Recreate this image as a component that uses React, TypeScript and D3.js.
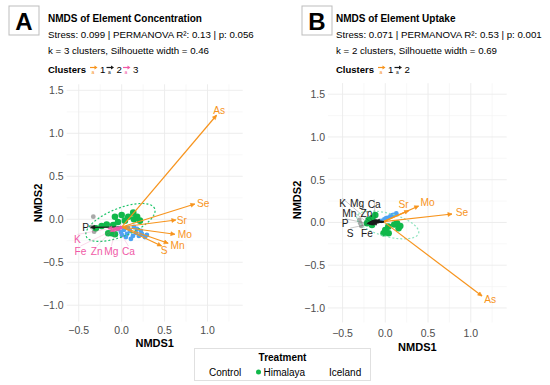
import * as d3 from "d3";

// ── Panel A: element concentration ─────────────────────────────────────
const A_ORIGIN = [0, -0.09];
const A_ARROW_NAMES = ["As", "Se", "Sr", "Mo", "Mn", "S", "P", "K", "Fe", "Zn", "Mg", "Ca"];
const A_ARROW_CLUSTER = [1, 1, 1, 1, 1, 1, 2, 3, 3, 3, 3, 3];
const A_ARROW_X = [1.105, 0.852, 0.631, 0.62, 0.542, 0.465, -0.36, -0.16, -0.13, -0.1, -0.07, -0.04];
const A_ARROW_Y = [1.21, 0.178, -0.008, -0.174, -0.279, -0.31, -0.093, -0.11, -0.14, -0.12, -0.13, -0.12];
const A_LABEL_X = [1.135, 0.95, 0.7, 0.736, 0.651, 0.495, -0.42, -0.516, -0.48, -0.29, -0.12, 0.08];
const A_LABEL_Y = [1.27, 0.186, -0.016, -0.174, -0.3, -0.365, -0.093, -0.235, -0.37, -0.37, -0.37, -0.37];

const A_HIM_X = [-0.078, 0, 0.077, 0.135, 0.18, 0.213, 0.143, 0.038, -0.098, -0.174, -0.233, -0.3, -0.156, -0.116, -0.078, -0.043];
const A_HIM_Y = [0.03, 0.05, 0.03, 0.077, 0.03, -0.016, 0, -0.016, -0.066, -0.06, -0.078, -0.105, -0.163, -0.163, -0.174, -0.031];
const A_CTL_X = [-0.33, -0.32, -0.345];
const A_CTL_Y = [0.03, -0.144, -0.09];
const A_ICE_X = [-0.043, -0.008, 0.027, 0.062, 0.097, 0.131, 0.166, 0.201, 0.236, 0.271, 0.05, 0.108, 0.003, 0.178, 0.224, 0.073, 0.143, 0.294];
const A_ICE_Y = [-0.113, -0.148, -0.124, -0.171, -0.136, -0.194, -0.159, -0.194, -0.171, -0.206, -0.206, -0.229, -0.183, -0.113, -0.136, -0.101, -0.09, -0.183];
// ellipse: cx, cy, rx, ry, angle (deg)
const A_ELLIPSE = [-0.014, -0.037, 0.43, 0.163, 22];

// ── Panel B: element uptake ────────────────────────────────────────────
const B_ORIGIN = [-0.02, 0.01];
const B_ARROW_NAMES = ["As", "Se", "Mo", "Sr", "K", "Mg", "Ca", "Mn", "Zn", "P", "S", "Fe"];
const B_ARROW_CLUSTER = [1, 1, 1, 1, 2, 2, 2, 2, 2, 2, 2, 2];
const B_ARROW_X = [1.131, 0.78, 0.39, 0.273, -0.175, -0.152, -0.117, -0.2, -0.164, -0.21, -0.187, -0.152];
const B_ARROW_Y = [-0.86, 0.099, 0.193, 0.138, 0.006, 0.018, 0.023, -0.006, 0, -0.012, -0.018, -0.018];
const B_LABEL_X = [1.228, 0.897, 0.495, 0.214, -0.5, -0.33, -0.13, -0.42, -0.22, -0.47, -0.41, -0.215];
const B_LABEL_Y = [-0.898, 0.115, 0.232, 0.205, 0.222, 0.222, 0.212, 0.1, 0.1, -0.015, -0.125, -0.125];

const B_HIM_X = [-0.117, -0.195, -0.214, -0.156, 0, 0.035, 0.137, 0.156, -0.02, 0.039, 0.175, 0.105, -0.152];
const B_HIM_Y = [0.088, 0.029, -0.009, -0.029, -0.088, -0.049, -0.009, -0.068, -0.126, -0.126, -0.041, -0.023, 0.053];
const B_CTL_X = [-0.292, -0.28, -0.304];
const B_CTL_Y = [-0.009, -0.041, 0.029];
const B_ICE_X = [-0.047, -0.012, 0.023, 0.058, 0.094, 0.129, 0.006, 0.076];
const B_ICE_Y = [0.018, 0.035, 0.053, 0.07, 0.088, 0.105, 0.047, 0.082];
const B_ELLIPSE = [0.029, -0.029, 0.374, 0.135, -15];

const X_MAJOR = [-0.5, 0, 0.5, 1.0];
const X_MINOR = [-0.25, 0.25, 0.75, 1.25];
const Y_MAJOR = [-1.0, -0.5, 0, 0.5, 1.0, 1.5];
const Y_MINOR = [-0.75, -0.25, 0.25, 0.75, 1.25];

const FONT = "'Liberation Sans', Arial, sans-serif";
const ORANGE = "#F7941D";
const PINK = "#F05AA6";
const DARK = "#1a1a1a";
const GREEN = "#10B84A";
const BLUE = "#4EA3F2";
const GRAY = "#A8A8A8";
const CLUSTER_COLOR: Record<number, string> = { 1: ORANGE, 2: DARK, 3: PINK };

function fmt(v: number) {
  return (v < 0 ? "\u2212" : "") + Math.abs(v).toFixed(1);
}

function ellipsePath(e: number[], x: d3.ScaleLinear<number, number>, y: d3.ScaleLinear<number, number>) {
  const [cx, cy, rx, ry, ang] = e;
  const a = (ang * Math.PI) / 180;
  const pts = d3.range(0, 101).map((i) => {
    const t = (i / 100) * 2 * Math.PI;
    const ex = rx * Math.cos(t);
    const ey = ry * Math.sin(t);
    return [cx + ex * Math.cos(a) - ey * Math.sin(a), cy + ex * Math.sin(a) + ey * Math.cos(a)];
  });
  return d3.line<number[]>().x((d) => x(d[0])).y((d) => y(d[1]))(pts) ?? "";
}

interface PanelProps {
  x: d3.ScaleLinear<number, number>;
  y: d3.ScaleLinear<number, number>;
  origin: number[];
  names: string[];
  cluster: number[];
  ax: number[];
  ay: number[];
  lx: number[];
  ly: number[];
  him: [number[], number[]];
  ctl: [number[], number[]];
  ice: [number[], number[]];
  ellipse: number[];
  ellipseColor: string;
  xTitleY: number;
  yTitleX: number;
  yTitleY: number;
  xTickY: number;
}

function Panel(p: PanelProps) {
  const { x, y } = p;
  const [x0, x1] = x.range();
  const [y1, y0] = y.range();
  const ox = x(p.origin[0]);
  const oy = y(p.origin[1]);
  return (
    <g>
      {/* grid */}
      {X_MINOR.filter((v) => x(v) >= x0 && x(v) <= x1).map((v) => (
        <line key={"xm" + v} x1={x(v)} x2={x(v)} y1={y0} y2={y1} stroke="#F3F3F3" strokeWidth={0.6} />
      ))}
      {Y_MINOR.map((v) => (
        <line key={"ym" + v} x1={x0} x2={x1} y1={y(v)} y2={y(v)} stroke="#F3F3F3" strokeWidth={0.6} />
      ))}
      {X_MAJOR.map((v) => (
        <line key={"xM" + v} x1={x(v)} x2={x(v)} y1={y0} y2={y1} stroke="#EBEBEB" strokeWidth={0.9} />
      ))}
      {Y_MAJOR.map((v) => (
        <line key={"yM" + v} x1={x0} x2={x1} y1={y(v)} y2={y(v)} stroke="#EBEBEB" strokeWidth={0.9} />
      ))}
      {/* tick labels */}
      {X_MAJOR.map((v) => (
        <text key={"xt" + v} x={x(v)} y={p.xTickY} textAnchor="middle" dominantBaseline="central" fontSize={10.5} fill="#4D4D4D">
          {fmt(v)}
        </text>
      ))}
      {Y_MAJOR.map((v) => (
        <text key={"yt" + v} x={x0 - 3} y={y(v)} textAnchor="end" dominantBaseline="central" fontSize={10.5} fill="#4D4D4D">
          {fmt(v)}
        </text>
      ))}
      <text x={(x0 + x1) / 2} y={p.xTitleY} textAnchor="middle" dominantBaseline="central" fontSize={11} fontWeight="bold" fill="#000">
        NMDS1
      </text>
      <text
        transform={`translate(${p.yTitleX},${p.yTitleY}) rotate(-90)`}
        textAnchor="middle"
        dominantBaseline="central"
        fontSize={11}
        fontWeight="bold"
        fill="#000"
      >
        NMDS2
      </text>
      {/* points */}
      {p.ctl[0].map((v, i) => (
        <circle key={"c" + i} cx={x(v)} cy={y(p.ctl[1][i])} r={2.4} fill={GRAY} />
      ))}
      {p.him[0].map((v, i) => (
        <circle key={"h" + i} cx={x(v)} cy={y(p.him[1][i])} r={3.3} fill={GREEN} />
      ))}
      {p.ice[0].map((v, i) => (
        <circle key={"i" + i} cx={x(v)} cy={y(p.ice[1][i])} r={2.4} fill={BLUE} />
      ))}
      <path d={ellipsePath(p.ellipse, x, y)} fill="none" stroke={p.ellipseColor} strokeWidth={1.2} strokeDasharray="2,2" />
      {/* repel segments */}
      {p.names.map((n, i) => {
        const tx = x(p.ax[i]);
        const ty = y(p.ay[i]);
        const lxp = x(p.lx[i]);
        const lyp = y(p.ly[i]);
        const d = Math.hypot(lxp - tx, lyp - ty);
        if (d < 14) return null;
        return (
          <line key={"s" + n} x1={tx} y1={ty} x2={lxp} y2={lyp - 5} stroke={CLUSTER_COLOR[p.cluster[i]]} strokeWidth={0.5} opacity={0.45} />
        );
      })}
      {/* arrows */}
      {p.names.map((n, i) => {
        const tx = x(p.ax[i]);
        const ty = y(p.ay[i]);
        const col = CLUSTER_COLOR[p.cluster[i]];
        const ang = Math.atan2(ty - oy, tx - ox);
        const h = 4.5;
        const w = 0.45;
        const pts = [
          [tx, ty],
          [tx - h * Math.cos(ang - w), ty - h * Math.sin(ang - w)],
          [tx - h * Math.cos(ang + w), ty - h * Math.sin(ang + w)],
        ];
        return (
          <g key={"a" + n}>
            <line x1={ox} y1={oy} x2={tx} y2={ty} stroke={col} strokeWidth={1.2} />
            <polygon points={pts.map((q) => q.join(",")).join(" ")} fill={col} stroke={col} strokeWidth={0.6} />
          </g>
        );
      })}
      {p.names.map((n, i) => (
        <text
          key={"l" + n}
          x={x(p.lx[i])}
          y={y(p.ly[i])}
          textAnchor="middle"
          dominantBaseline="central"
          fontSize={10.2}
          fill={CLUSTER_COLOR[p.cluster[i]]}
        >
          {n}
        </text>
      ))}
    </g>
  );
}

function LegendKey({ x, y, color }: { x: number; y: number; color: string }) {
  return (
    <g>
      <line x1={x} y1={y} x2={x + 6} y2={y} stroke={color} strokeWidth={1.2} />
      <polygon points={`${x + 7.5},${y} ${x + 4.5},${y - 2} ${x + 4.5},${y + 2}`} fill={color} />
      <text x={x + 3} y={y + 4.5} fontSize={5} fill={color} textAnchor="middle" dominantBaseline="central">
        a
      </text>
    </g>
  );
}

function Header(props: {
  bx: number;
  tx: number;
  letter: string;
  title: string;
  line1: string;
  line2: string;
  clusters: number[];
}) {
  const { bx, tx } = props;
  let cx = tx + 42;
  return (
    <g>
      <rect x={bx} y={6} width={30} height={29} fill="#fff" stroke="#BDBDBD" strokeWidth={1} />
      <text x={bx + 15} y={21} textAnchor="middle" dominantBaseline="central" fontSize={24} fontWeight="bold" fill="#000">
        {props.letter}
      </text>
      <text x={tx} y={18} dominantBaseline="central" fontSize={10} fontWeight="bold" fill="#000">
        {props.title}
      </text>
      <text x={tx} y={34} dominantBaseline="central" fontSize={9.7} fill="#000">
        {props.line1}
      </text>
      <text x={tx} y={50.5} dominantBaseline="central" fontSize={9.7} fill="#000">
        {props.line2}
      </text>
      <text x={tx} y={69} dominantBaseline="central" fontSize={9.5} fontWeight="bold" fill="#000">
        Clusters
      </text>
      {props.clusters.map((c) => {
        const kx = cx;
        cx += 16.5;
        return (
          <g key={c}>
            <LegendKey x={kx} y={67.5} color={CLUSTER_COLOR[c]} />
            <text x={kx + 10} y={69} dominantBaseline="central" fontSize={9.7} fill="#000">
              {c}
            </text>
          </g>
        );
      })}
    </g>
  );
}

export default function App() {
  const xA = d3.scaleLinear().domain([-0.64, 1.41]).range([66.7, 242.7]);
  const yA = d3.scaleLinear().domain([-1.19, 1.57]).range([321.6, 84.3]);
  const xB = d3.scaleLinear().domain([-0.67, 1.42]).range([328, 506.7]);
  const yB = d3.scaleLinear().domain([-1.17, 1.63]).range([322.5, 83.1]);

  return (
    <div style={{ position: "fixed", left: 0, top: 0 }}>
      <svg width={550} height={385} style={{ display: "block", fontFamily: FONT, background: "#fff" }}>
        <Header
          bx={9}
          tx={48}
          letter="A"
          title="NMDS of Element Concentration"
          line1="Stress: 0.099 | PERMANOVA R²: 0.13 | p: 0.056"
          line2="k = 3 clusters, Silhouette width = 0.46"
          clusters={[1, 2, 3]}
        />
        <Header
          bx={302}
          tx={336}
          letter="B"
          title="NMDS of Element Uptake"
          line1="Stress: 0.071 | PERMANOVA R²: 0.53 | p: 0.001"
          line2="k = 2 clusters, Silhouette width = 0.69"
          clusters={[1, 2]}
        />
        <Panel
          x={xA}
          y={yA}
          origin={A_ORIGIN}
          names={A_ARROW_NAMES}
          cluster={A_ARROW_CLUSTER}
          ax={A_ARROW_X}
          ay={A_ARROW_Y}
          lx={A_LABEL_X}
          ly={A_LABEL_Y}
          him={[A_HIM_X, A_HIM_Y]}
          ctl={[A_CTL_X, A_CTL_Y]}
          ice={[A_ICE_X, A_ICE_Y]}
          ellipse={A_ELLIPSE}
          ellipseColor="#1DC46A"
          xTitleY={343}
          yTitleX={38}
          yTitleY={203}
          xTickY={330}
        />
        <Panel
          x={xB}
          y={yB}
          origin={B_ORIGIN}
          names={B_ARROW_NAMES}
          cluster={B_ARROW_CLUSTER}
          ax={B_ARROW_X}
          ay={B_ARROW_Y}
          lx={B_LABEL_X}
          ly={B_LABEL_Y}
          him={[B_HIM_X, B_HIM_Y]}
          ctl={[B_CTL_X, B_CTL_Y]}
          ice={[B_ICE_X, B_ICE_Y]}
          ellipse={B_ELLIPSE}
          ellipseColor="#8DE3BE"
          xTitleY={347}
          yTitleX={297}
          yTitleY={200}
          xTickY={333}
        />
        {/* treatment legend */}
        <rect x={194.5} y={348.5} width={176} height={32} fill="#fff" stroke="#E0E0E0" strokeWidth={1} />
        <text x={282.5} y={357.5} textAnchor="middle" dominantBaseline="central" fontSize={10} fontWeight="bold" fill="#000">
          Treatment
        </text>
        <text x={209} y={372} dominantBaseline="central" fontSize={10} fill="#000">
          Control
        </text>
        <circle cx={258.5} cy={372} r={2.5} fill={GREEN} />
        <text x={263.5} y={372} dominantBaseline="central" fontSize={10} fill="#000">
          Himalaya
        </text>
        <text x={329} y={372} dominantBaseline="central" fontSize={10} fill="#000">
          Iceland
        </text>
      </svg>
    </div>
  );
}
